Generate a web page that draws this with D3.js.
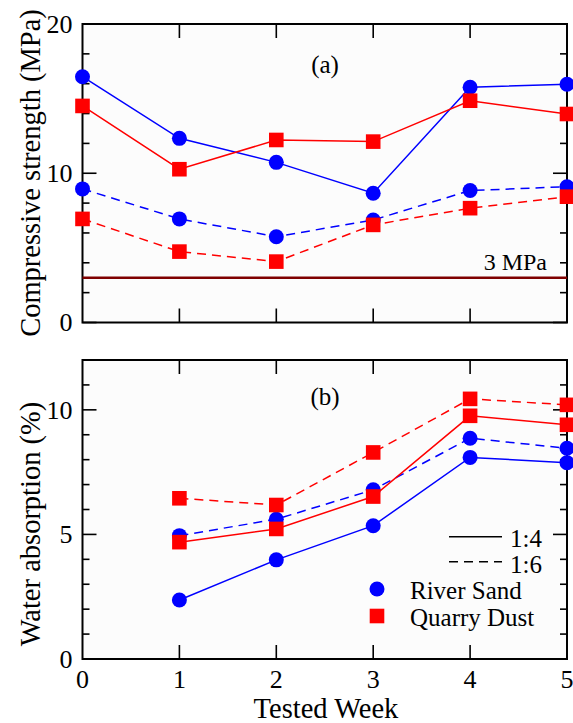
<!DOCTYPE html>
<html>
<head>
<meta charset="utf-8">
<script src="https://cdn.jsdelivr.net/npm/d3@7"></script>
<style>
  html, body { margin: 0; padding: 0; background: #fff; }
  svg text { font-family: "Liberation Serif", "Times New Roman", serif; fill: #000; }
</style>
</head>
<body>
<svg id="chart" width="573" height="723"></svg>
<script>
// Tested weeks
const weeks = [0, 1, 2, 3, 4, 5];
const weeksAbs = [1, 2, 3, 4, 5];

// (a) Compressive strength, MPa
const strengthRiver14 = [16.47, 12.34, 10.73, 8.66, 15.76, 15.96];
const strengthQuarry14 = [14.51, 10.27, 12.23, 12.12, 14.86, 13.97];
const strengthRiver16 = [8.95, 6.94, 5.75, 6.87, 8.84, 9.10];
const strengthQuarry16 = [6.94, 4.75, 4.08, 6.54, 7.66, 8.43];
const strengthLimit = 3;

// (b) Water absorption, %
const absorbRiver14 = [2.37, 3.98, 5.35, 8.09, 7.88];
const absorbRiver16 = [4.95, 5.61, 6.79, 8.86, 8.46];
const absorbQuarry14 = [4.69, 5.22, 6.52, 9.76, 9.40];
const absorbQuarry16 = [6.45, 6.18, 8.29, 10.44, 10.20];

// Axis ticks
const xTicks = [0, 1, 2, 3, 4, 5];
const strengthMajor = [0, 10, 20];
const strengthMinor = [2, 4, 6, 8, 12, 14, 16, 18];
const absorbMajor = [0, 5, 10];
const absorbMinor = [1, 2, 3, 4, 6, 7, 8, 9, 11];

const BLUE = "#0000ff", RED = "#ff0000", LIMIT = "#7f0000";
const DASH = "9,6";

const svg = d3.select("#chart");
const left = 82.5, right = 567;
const x = d3.scaleLinear().domain([0, 5]).range([left, right]);

function panel(top, bottom, yDomain, major, minor, label, labelY) {
  const y = d3.scaleLinear().domain(yDomain).range([bottom, top]);
  const g = svg.append("g");
  g.append("rect").attr("x", left).attr("y", top)
    .attr("width", right - left).attr("height", bottom - top)
    .attr("fill", "#fcfcfc");

  // inward ticks on all four sides
  const axes = g.append("g").attr("stroke", "#000").attr("stroke-width", 1.6);
  const majLen = 14, minLen = 7;
  const xInner = xTicks.filter(d => d > 0 && d < 5);
  xInner.forEach(d => {
    axes.append("line").attr("x1", x(d)).attr("x2", x(d)).attr("y1", bottom).attr("y2", bottom - majLen);
    axes.append("line").attr("x1", x(d)).attr("x2", x(d)).attr("y1", top).attr("y2", top + majLen);
  });
  major.forEach(d => {
    axes.append("line").attr("x1", left).attr("x2", left + majLen).attr("y1", y(d)).attr("y2", y(d));
    axes.append("line").attr("x1", right).attr("x2", right - majLen).attr("y1", y(d)).attr("y2", y(d));
  });
  minor.forEach(d => {
    axes.append("line").attr("x1", left).attr("x2", left + minLen).attr("y1", y(d)).attr("y2", y(d));
    axes.append("line").attr("x1", right).attr("x2", right - minLen).attr("y1", y(d)).attr("y2", y(d));
  });
  g.append("rect").attr("x", left).attr("y", top)
    .attr("width", right - left).attr("height", bottom - top)
    .attr("fill", "none").attr("stroke", "#000").attr("stroke-width", 2);

  // y tick labels
  g.selectAll("text.ytick").data(major).join("text")
    .attr("class", "ytick")
    .attr("x", left - 10).attr("y", d => y(d))
    .attr("dy", "0.34em").attr("text-anchor", "end")
    .attr("font-size", 26).text(d => d);

  // panel tag
  g.append("text").attr("x", 325).attr("y", labelY)
    .attr("text-anchor", "middle").attr("font-size", 25).text(label);
  return y;
}

function series(y, xs, vals, color, dashed, shape) {
  const line = d3.line().x((d, i) => x(xs[i])).y(d => y(d));
  svg.append("path").datum(vals).attr("d", line)
    .attr("fill", "none").attr("stroke", color).attr("stroke-width", 1.5)
    .attr("stroke-dasharray", dashed ? DASH : null);
  const pts = svg.append("g");
  vals.forEach((v, i) => {
    if (shape === "circle") {
      pts.append("circle").attr("cx", x(xs[i])).attr("cy", y(v)).attr("r", 7.5).attr("fill", color);
    } else {
      pts.append("rect").attr("x", x(xs[i]) - 7.3).attr("y", y(v) - 7.3)
        .attr("width", 14.6).attr("height", 14.6).attr("fill", color);
    }
  });
}

// ---- (a) compressive strength ----
const yA = panel(24, 322.5, [0, 20], strengthMajor, strengthMinor, "(a)", 73);
svg.append("line").attr("x1", left).attr("x2", right)
  .attr("y1", yA(strengthLimit)).attr("y2", yA(strengthLimit))
  .attr("stroke", LIMIT).attr("stroke-width", 2.5);
svg.append("text").attr("x", 547).attr("y", 270).attr("text-anchor", "end")
  .attr("font-size", 24).text("3 MPa");
series(yA, weeks, strengthRiver14, BLUE, false, "circle");
series(yA, weeks, strengthRiver16, BLUE, true, "circle");
series(yA, weeks, strengthQuarry14, RED, false, "square");
series(yA, weeks, strengthQuarry16, RED, true, "square");

svg.append("text").attr("transform", "translate(40,173) rotate(-90)")
  .attr("text-anchor", "middle").attr("font-size", 28.5)
  .text("Compressive strength (MPa)");

// ---- (b) water absorption ----
const yB = panel(360, 659, [0, 12], absorbMajor, absorbMinor, "(b)", 405);
series(yB, weeksAbs, absorbRiver14, BLUE, false, "circle");
series(yB, weeksAbs, absorbRiver16, BLUE, true, "circle");
series(yB, weeksAbs, absorbQuarry14, RED, false, "square");
series(yB, weeksAbs, absorbQuarry16, RED, true, "square");

svg.append("text").attr("transform", "translate(40,524) rotate(-90)")
  .attr("text-anchor", "middle").attr("font-size", 28.5)
  .text("Water absorption (%)");

// x tick labels and title
svg.selectAll("text.xtick").data(xTicks).join("text")
  .attr("class", "xtick").attr("x", d => x(d)).attr("y", 688)
  .attr("text-anchor", "middle").attr("font-size", 26).text(d => d);
svg.append("text").attr("x", 326).attr("y", 718)
  .attr("text-anchor", "middle").attr("font-size", 28.5).text("Tested Week");

// legend
const lg = svg.append("g");
lg.append("line").attr("x1", 449).attr("x2", 502).attr("y1", 536.7).attr("y2", 536.7)
  .attr("stroke", "#000").attr("stroke-width", 1.5);
lg.append("text").attr("x", 510).attr("y", 546.5).attr("font-size", 25).text("1:4");
lg.append("line").attr("x1", 449).attr("x2", 502).attr("y1", 561.7).attr("y2", 561.7)
  .attr("stroke", "#000").attr("stroke-width", 1.5).attr("stroke-dasharray", DASH);
lg.append("text").attr("x", 510).attr("y", 572.5).attr("font-size", 25).text("1:6");
lg.append("circle").attr("cx", 377).attr("cy", 589).attr("r", 7.5).attr("fill", BLUE);
lg.append("text").attr("x", 410).attr("y", 598.5).attr("font-size", 25).text("River Sand");
lg.append("rect").attr("x", 377 - 7.3).attr("y", 616 - 7.3).attr("width", 14.6).attr("height", 14.6).attr("fill", RED);
lg.append("text").attr("x", 410).attr("y", 625.5).attr("font-size", 25).text("Quarry Dust");
</script>
</body>
</html>
